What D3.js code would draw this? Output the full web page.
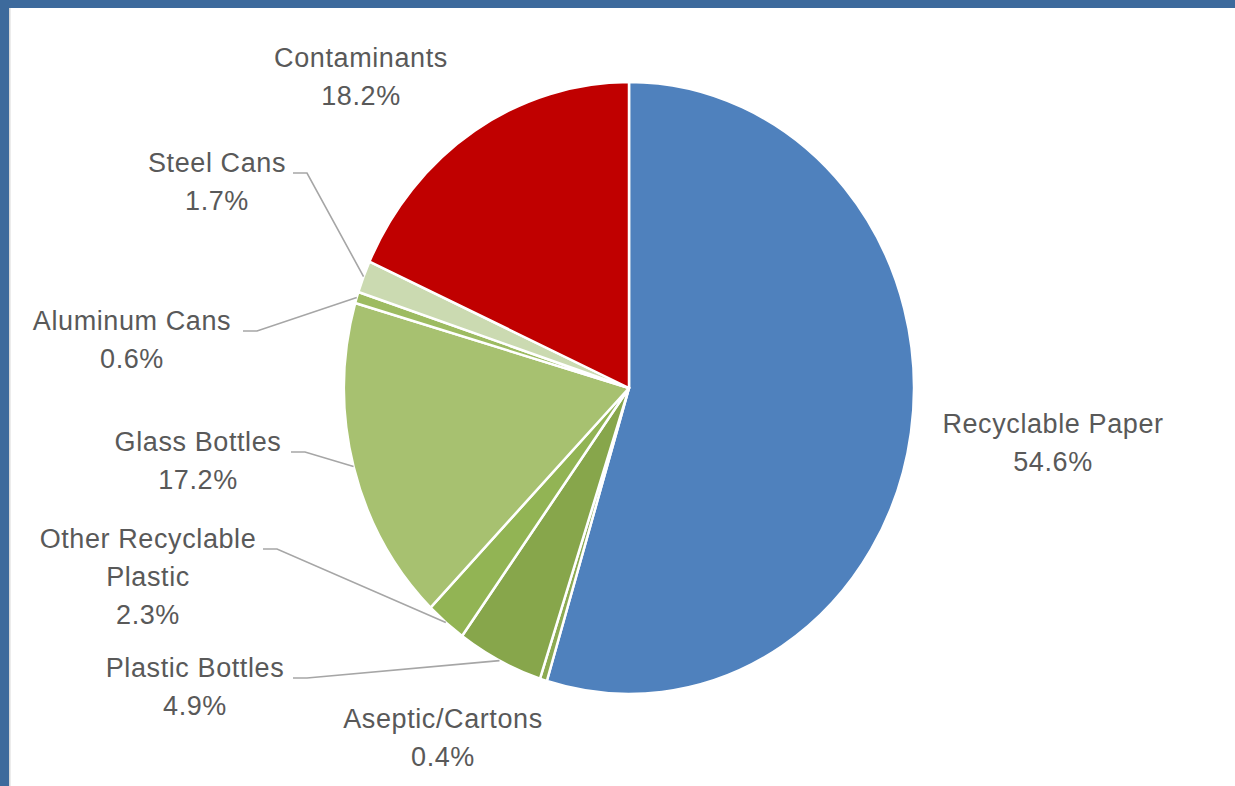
<!DOCTYPE html>
<html>
<head>
<meta charset="utf-8">
<script src="https://cdn.jsdelivr.net/npm/d3@7"></script>
<style>
  html, body { margin: 0; padding: 0; background: #fff; }
  svg { display: block; }
</style>
</head>
<body>
<svg id="chart" width="1235" height="786"></svg>
<script>
// ---- data ----
const categories = ["Recyclable Paper", "Aseptic/Cartons", "Plastic Bottles", "Other Recyclable Plastic",
                    "Glass Bottles", "Aluminum Cans", "Steel Cans", "Contaminants"];
const values = [54.6, 0.4, 4.9, 2.3, 17.2, 0.6, 1.7, 18.2];
const labelLines = [
  ["Recyclable Paper"], ["Aseptic/Cartons"], ["Plastic Bottles"], ["Other Recyclable", "Plastic"],
  ["Glass Bottles"], ["Aluminum Cans"], ["Steel Cans"], ["Contaminants"]
];
const colors = ["#4F81BD", "#8CAA52", "#87A64B", "#92B454", "#A7C170", "#9DBB61", "#CBDAB1", "#C00000"];

// ---- layout (label positions: center x, first baseline y, leader start x or null) ----
const labelLayout = [
  { x: 1053, y: 433, lead: null },
  { x: 443,  y: 728, lead: null },
  { x: 195,  y: 677, lead: 293 },
  { x: 148,  y: 548, lead: 263 },
  { x: 198,  y: 451, lead: 291 },
  { x: 132,  y: 330, lead: 243 },
  { x: 217,  y: 172, lead: 293 },
  { x: 361,  y: 67,  lead: null }
];

const W = 1235, H = 786;
const cx = 629, cy = 388, rx = 285, ry = 306;
const lineH = 38;

const svg = d3.select("#chart");

// frame
svg.append("rect").attr("x", 0).attr("y", 0).attr("width", W).attr("height", H).attr("fill", "#fff");
svg.append("rect").attr("x", 0).attr("y", 0).attr("width", W).attr("height", 8).attr("fill", "#3D6A9C");
svg.append("rect").attr("x", 0).attr("y", 0).attr("width", 9).attr("height", H).attr("fill", "#3D6A9C");
svg.append("rect").attr("x", 9).attr("y", 8).attr("width", 1.5).attr("height", H).attr("fill", "#D9D9D9");

const pie = d3.pie().sort(null).value(d => d)(values);
const arc = d3.arc().innerRadius(0).outerRadius(rx);

const g = svg.append("g").attr("transform", `translate(${cx},${cy}) scale(1,${ry / rx})`);
g.selectAll("path.slice")
  .data(pie)
  .join("path")
  .attr("class", "slice")
  .attr("d", arc)
  .attr("fill", (d, i) => colors[i])
  .attr("stroke", "#fff")
  .attr("stroke-width", 2.5)
  .attr("vector-effect", "non-scaling-stroke")
  .attr("stroke-linejoin", "round");

// leader lines
const edgePoint = d => {
  const a = (d.startAngle + d.endAngle) / 2;
  return [cx + rx * Math.sin(a), cy - ry * Math.cos(a)];
};
pie.forEach((d, i) => {
  const L = labelLayout[i];
  if (L.lead == null) return;
  const ly = L.y + 1;
  const p = edgePoint(d);
  svg.append("polyline")
    .attr("points", [[L.lead, ly], [L.lead + 14, ly], p].map(q => q.join(",")).join(" "))
    .attr("fill", "none")
    .attr("stroke", "#A6A6A6")
    .attr("stroke-width", 1.6);
});

// labels
pie.forEach((d, i) => {
  const L = labelLayout[i];
  const lines = labelLines[i].concat([values[i].toFixed(1) + "%"]);
  const t = svg.append("text")
    .attr("text-anchor", "middle")
    .attr("font-family", "'Liberation Sans', Arial, sans-serif")
    .attr("font-size", 27)
    .attr("letter-spacing", "0.6px")
    .attr("fill", "#595959");
  lines.forEach((s, k) => {
    t.append("tspan").attr("x", L.x).attr("y", L.y + k * lineH).text(s);
  });
});
</script>
</body>
</html>
